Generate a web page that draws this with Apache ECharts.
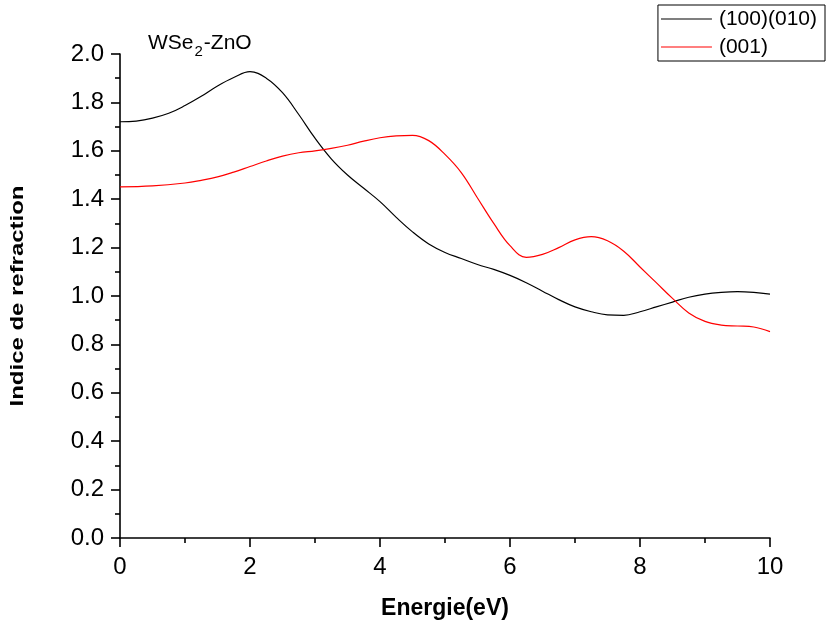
<!DOCTYPE html>
<html>
<head>
<meta charset="utf-8">
<script src="https://cdn.jsdelivr.net/npm/echarts@6/dist/echarts.min.js"></script>
<style>
  html, body { margin: 0; padding: 0; background: #fff; }
  #chart { width: 827px; height: 627px; }
</style>
</head>
<body>
<div id="chart"></div>
<script>
// Refractive index of WSe2-ZnO vs photon energy, two polarisations
const energy100 = [0, 0.25, 0.5, 0.75, 1, 1.25, 1.5, 1.75, 2, 2.25, 2.5, 2.75, 3, 3.25, 3.5, 3.75, 4, 4.25, 4.5, 4.75,
                   5, 5.25, 5.5, 5.75, 6, 6.25, 6.5, 6.75, 7, 7.25, 7.5, 7.75, 8, 8.25, 8.5, 8.75, 9, 9.25, 9.5, 9.75, 10];
const index100 = [1.72, 1.723, 1.735, 1.755, 1.787, 1.825, 1.868, 1.903, 1.927, 1.9, 1.84, 1.75, 1.652, 1.567, 1.50, 1.445, 1.39, 1.325, 1.265, 1.215,
                  1.18, 1.155, 1.13, 1.11, 1.085, 1.055, 1.02, 0.985, 0.955, 0.935, 0.922, 0.92, 0.935, 0.955, 0.975, 0.995, 1.008, 1.015, 1.018, 1.015, 1.008];

const energy001 = [0, 0.5, 1, 1.25, 1.5, 1.75, 2, 2.25, 2.5, 2.75, 3, 3.25, 3.5, 3.75, 4, 4.25, 4.5, 4.75,
                   5, 5.25, 5.5, 5.75, 6, 6.25, 6.5, 6.75, 7, 7.25, 7.5, 7.75, 8, 8.25, 8.5, 8.75, 9, 9.25, 9.5, 9.75, 10];
const index001 = [1.451, 1.455, 1.467, 1.478, 1.492, 1.512, 1.535, 1.558, 1.578, 1.592, 1.60, 1.61, 1.623, 1.64, 1.654, 1.662, 1.664, 1.642,
                  1.585, 1.51, 1.405, 1.30, 1.208, 1.16, 1.172, 1.20, 1.232, 1.245, 1.228, 1.185, 1.12, 1.055, 0.99, 0.93, 0.895, 0.88, 0.876, 0.872, 0.853];

const seriesNames = ['(100)(010)', '(001)'];
const xTitle = 'Energie(eV)';
const yTitle = 'Indice de refraction';

const pairs = (xs, ys) => xs.map((x, i) => [x, ys[i]]);

const FONT = 'Liberation Sans, Arial, sans-serif';
const axisStyle = { color: '#000', width: 1.6 };

const chart = echarts.init(document.getElementById('chart'), null, { renderer: 'canvas' });
chart.setOption({
  animation: false,
  backgroundColor: '#fff',
  textStyle: { fontFamily: FONT },
  grid: { left: 120, right: 57, top: 54, bottom: 89, containLabel: false, outerBoundsMode: 'none' },
  legend: {
    orient: 'vertical',
    right: 2,
    top: 5,
    padding: [2, 8, 2, 3],
    itemGap: 4,
    itemWidth: 51,
    itemHeight: 14,
    borderColor: '#000',
    borderWidth: 1,
    borderRadius: 0,
    textStyle: { fontSize: 21, lineHeight: 24, color: '#000', fontFamily: FONT, padding: [0, 0, 0, 2] },
    data: seriesNames.map(n => ({ name: n, icon: 'path://M0,0 L50,0 L50,1 L0,1 Z' }))
  },
  xAxis: {
    type: 'value',
    min: 0, max: 10, interval: 2,
    name: xTitle,
    nameLocation: 'middle',
    nameGap: 59,
    nameTextStyle: { fontSize: 23, fontWeight: 'bold', color: '#000', fontFamily: FONT },
    axisLine: { show: true, onZero: false, lineStyle: axisStyle },
    axisTick: { show: true, inside: false, length: 9, lineStyle: axisStyle },
    minorTick: { show: true, splitNumber: 2, length: 5, lineStyle: axisStyle },
    axisLabel: { fontSize: 24, color: '#000', margin: 17, fontFamily: FONT },
    splitLine: { show: false }
  },
  yAxis: {
    type: 'value',
    min: 0, max: 2, interval: 0.2,
    axisLine: { show: true, onZero: false, lineStyle: axisStyle },
    axisTick: { show: true, inside: false, length: 9, lineStyle: axisStyle },
    minorTick: { show: true, splitNumber: 2, length: 5, lineStyle: axisStyle },
    axisLabel: { fontSize: 24, color: '#000', margin: 16, fontFamily: FONT, formatter: v => v.toFixed(1) },
    splitLine: { show: false }
  },
  graphic: [
    {
      // vertical axis title, stretched along its length
      type: 'text',
      x: 18.5,
      y: 296,
      rotation: Math.PI / 2,
      scaleX: 1.33,
      style: {
        text: yTitle,
        fontSize: 18,
        fontWeight: 'bold',
        fontFamily: FONT,
        fill: '#000',
        align: 'center',
        verticalAlign: 'middle'
      }
    },
    {
      type: 'text',
      left: 148,
      top: 33,
      style: {
        text: 'WSe{sub|2}-ZnO',
        fontSize: 21,
        fontFamily: FONT,
        fill: '#000',
        rich: {
          sub: { fontSize: 15, fontFamily: FONT, fill: '#000', padding: [16, 1, 0, 1] }
        }
      }
    }
  ],
  series: [
    {
      name: seriesNames[0],
      type: 'line',
      data: pairs(energy100, index100),
      smooth: 0.4,
      symbol: 'none',
      lineStyle: { color: '#000', width: 1.2 },
      itemStyle: { color: '#000' }
    },
    {
      name: seriesNames[1],
      type: 'line',
      data: pairs(energy001, index001),
      smooth: 0.4,
      symbol: 'none',
      lineStyle: { color: '#ff0000', width: 1.2 },
      itemStyle: { color: '#ff0000' }
    }
  ]
});
</script>
</body>
</html>
